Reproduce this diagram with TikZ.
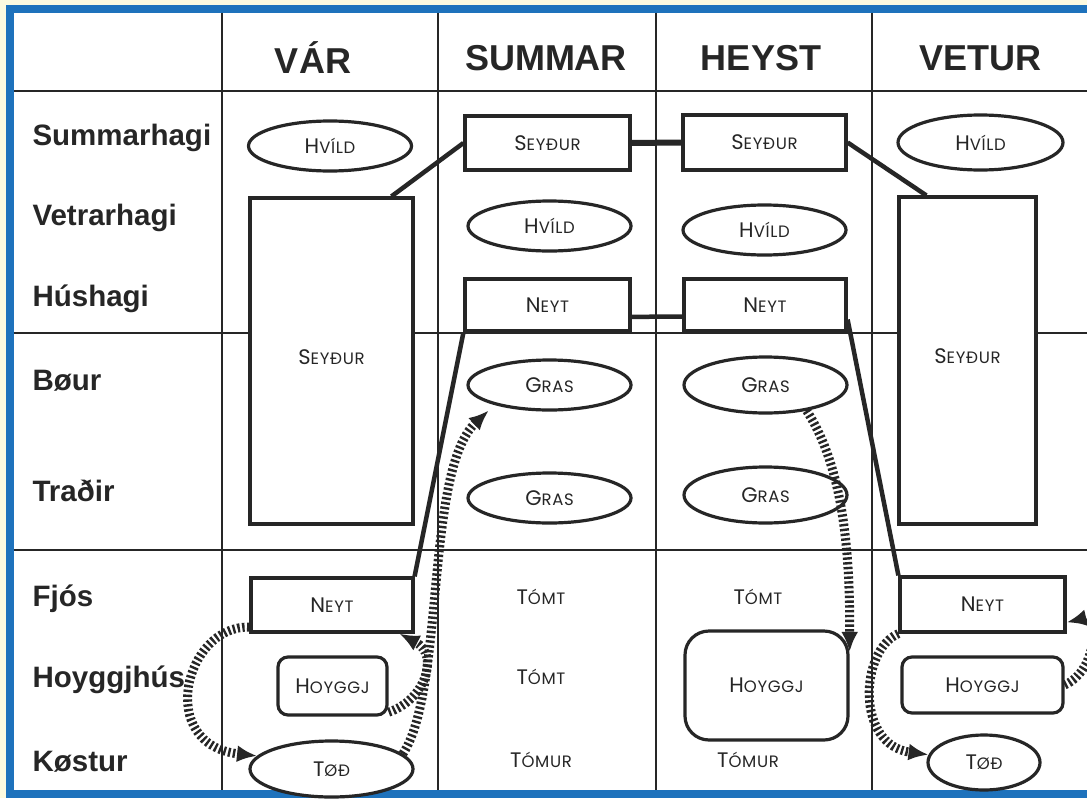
\documentclass[tikz,border=0pt]{standalone}
\usepackage{fontspec}
\setmainfont{Liberation Sans}
\newfontfamily\capfont[LetterSpace=4]{Poppins}
\usetikzlibrary{arrows.meta}
\usetikzlibrary{shapes.geometric}
\definecolor{frameblue}{RGB}{30,114,188}
\definecolor{paper}{RGB}{252,250,224}
\definecolor{ink}{RGB}{38,38,38}
\newcommand{\smc}[2]{{\capfont\fontsize{21}{21}\selectfont #1\fontsize{16.5}{16.5}\selectfont #2}}

\begin{document}
\begin{tikzpicture}[x = 1pt, y = -1pt,
	grid/.style = {line width = 2.4pt, ink},
	head/.style = {font = \fontsize{36}{36}\selectfont\bfseries, ink},
	rowlab/.style = {font = \fontsize{29.5}{29.5}\selectfont\bfseries, ink, anchor = west},
	box/.style = {draw = ink, fill = white, line width = 3.2pt, inner sep = 0pt, text = ink},
	oval/.style = {box, ellipse, minimum width = 163pt, minimum height = 50pt},
	rbox/.style = {box, rounded corners = 10pt},
	link/.style = {line width = 4.5pt, ink},
	flow/.style = {line width = 9pt, ink, dash pattern = on 2.4pt off 2.4pt,
		-{Latex[length = 20pt, width = 17pt]}}]
	\useasboundingbox (0,0) rectangle (1087,798);
	\clip (0,0) rectangle (1087,798);
	\fill[paper] (0,0) rectangle (1087,798);
	\draw[frameblue, line width = 8pt, fill = white] (9.5,8.5) rectangle (1120,793.5);

	% grid
	\foreach \gx in {222, 438, 656, 872}
		\draw[grid] (\gx,12.5) -- (\gx,789.5);
	\foreach \gy in {91, 333, 550}
		\draw[grid] (13.5,\gy) -- (1087,\gy);

	% headers
	\node[head] (var) at (313,58) {VÁR};
	\node[head] (summar) at (546,58) {SUMMAR};
	\node[head] (heyst) at (761,58) {HEYST};
	\node[head] (vetur) at (980,58) {VETUR};

	% row labels
	\node[rowlab] (r1) at (29,138) {Summarhagi};
	\node[rowlab] (r2) at (29,218) {Vetrarhagi};
	\node[rowlab] (r3) at (29,299) {Húshagi};
	\node[rowlab] (r4) at (29,381) {Bøur};
	\node[rowlab] (r5) at (29,491) {Traðir};
	\node[rowlab] (r6) at (29,599) {Fjós};
	\node[rowlab] (r7) at (29,680) {Hoyggjhús};
	\node[rowlab] (r8) at (29,762) {Køstur};

	% VÁR
	\node[oval] (hv1) at (330,146) {\smc{H}{VÍLD}};
	\node[box, minimum width = 163pt, minimum height = 326pt] (sy1) at (331.5,361) {\raisebox{8pt}{\smc{S}{EYÐUR}}};
	\node[box, minimum width = 162pt, minimum height = 54pt] (ne1) at (332,605) {\smc{N}{EYT}};
	\node[rbox, minimum width = 109pt, minimum height = 58pt] (hg1) at (332.5,686) {\smc{H}{OYGGJ}};
	\node[oval, minimum height = 56pt] (to1) at (331.5,769) {\smc{T}{ØÐ}};

	% SUMMAR
	\node[box, minimum width = 165pt, minimum height = 54pt] (sy2) at (547.5,143) {\smc{S}{EYÐUR}};
	\node[oval] (hv2) at (549.5,226) {\smc{H}{VÍLD}};
	\node[box, minimum width = 165pt, minimum height = 52pt] (ne2) at (547.5,305) {\smc{N}{EYT}};
	\node[oval] (gr1) at (549.5,385) {\smc{G}{RAS}};
	\node[oval] (gr2) at (549.5,498) {\smc{G}{RAS}};
	\node[text = ink] (tm1) at (541,597) {\smc{T}{ÓMT}};
	\node[text = ink] (tm2) at (541,677) {\smc{T}{ÓMT}};
	\node[text = ink] (tm3) at (541,760) {\smc{T}{ÓMUR}};

	% HEYST
	\node[box, minimum width = 163pt, minimum height = 55pt] (sy3) at (764.5,142.5) {\smc{S}{EYÐUR}};
	\node[oval] (hv3) at (764.5,230) {\smc{H}{VÍLD}};
	\node[box, minimum width = 162pt, minimum height = 52pt] (ne3) at (765,305) {\smc{N}{EYT}};
	\node[oval, minimum height = 56pt] (gr3) at (765.5,385) {\smc{G}{RAS}};
	\node[oval, minimum height = 56pt] (gr4) at (765.5,495) {\smc{G}{RAS}};
	\node[text = ink] (tm4) at (758,597) {\smc{T}{ÓMT}};
	\node[rbox, rounded corners = 24pt, minimum width = 163pt, minimum height = 109pt] (hg3) at (766.5,685.5) {\smc{H}{OYGGJ}};
	\node[text = ink] (tm5) at (748,760) {\smc{T}{ÓMUR}};

	% VETUR
	\node[oval, minimum width = 165pt, minimum height = 55pt] (hv4) at (980.5,142.5) {\smc{H}{VÍLD}};
	\node[box, minimum width = 137pt, minimum height = 327pt] (sy4) at (967.5,360.5) {\raisebox{8pt}{\smc{S}{EYÐUR}}};
	\node[box, minimum width = 165pt, minimum height = 55pt] (ne4) at (982.5,604.5) {\smc{N}{EYT}};
	\node[rbox, minimum width = 161pt, minimum height = 56pt] (hg4) at (982.5,685) {\smc{H}{OYGGJ}};
	\node[oval, minimum width = 112pt, minimum height = 55pt] (to4) at (984,762.5) {\smc{T}{ØÐ}};

	% moves of the flock
	\draw[link] (sy1.70) -- (sy2.west);
	\draw[link, line width = 6pt] (sy2.east) -- (sy3.west);
	\draw[link] (sy3.east) -- (sy4.104);
	\draw[link] (ne2.-8) -- (ne3.188);
	\draw[link] (ne1.north east) -- (ne2.south west);
	\draw[link] (ne3.-10) -- (ne4.north west);

	% hay and fodder
	\draw[flow] (hg1.-25) .. controls (425,700) and (440,655) .. (ne1.-23);
	\draw[flow, shorten > = 8pt] (to1.12) .. controls (445,690) and (425,470) .. (gr1.200);
	\draw[flow] (ne1.195) .. controls (185,625) and (155,745) .. (to1.170);
	\draw[flow] (gr3.-32) .. controls (845,470) and (850,560) .. (hg3.22);
	\draw[flow] (ne4.south west) .. controls (860,650) and (855,745) .. (to4.172);
	\draw[flow] (hg4.east) .. controls (1098,670) and (1098,615) .. (ne4.-12);
\end{tikzpicture}
\end{document}
